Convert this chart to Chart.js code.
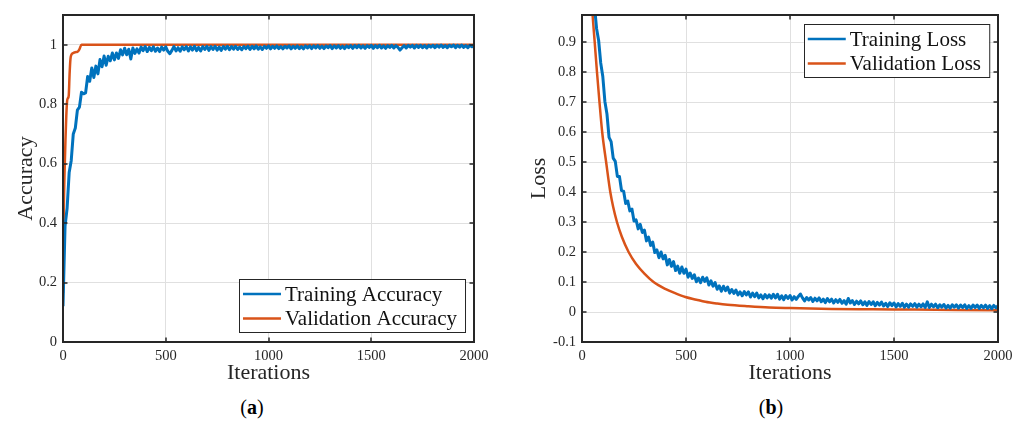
<!DOCTYPE html>
<html>
<head>
<meta charset="utf-8">
<script src="https://cdn.jsdelivr.net/npm/chart.js@4.4.1/dist/chart.umd.min.js"></script>
<style>
  body { margin: 0; background: #fff; width: 1013px; height: 422px; position: relative; overflow: hidden; }
  canvas { position: absolute; top: 0; }
  #accChart { left: 0; }
  #lossChart { left: 500px; }
  .cap { position: absolute; top: 396px; width: 60px; margin-left: -30px; text-align: center;
         font: 20px "Liberation Serif", serif; color: #000; }
</style>
</head>
<body>
<canvas id="accChart" width="500" height="390"></canvas>
<canvas id="lossChart" width="513" height="390"></canvas>
<div class="cap" style="left:252px">(<b>a</b>)</div>
<div class="cap" style="left:771px">(<b>b</b>)</div>
<script>
// Training curves are logged every 10 iterations
const trainStep = 10;

// (a) accuracy
const trainAcc = [
  0.12, 0.39, 0.45, 0.57, 0.61, 0.70, 0.72, 0.78, 0.79, 0.84, 0.835,
  0.838, 0.893, 0.877, 0.922, 0.890, 0.928, 0.902, 0.950, 0.926, 0.962,
  0.931, 0.961, 0.946, 0.972, 0.949, 0.972, 0.954, 0.983, 0.966, 0.988,
  0.966, 0.985, 0.952, 0.989, 0.971, 0.986, 0.972, 0.992, 0.980, 0.994,
  0.977, 0.991, 0.980, 0.993, 0.978, 0.989, 0.977, 0.992, 0.982, 0.993,
  0.978, 0.970, 0.981, 0.994, 0.979, 0.990, 0.978, 0.993, 0.983, 0.994,
  0.979, 0.993, 0.982, 0.995, 0.980, 0.991, 0.979, 0.994, 0.984, 0.995,
  0.981, 0.994, 0.984, 0.995, 0.982, 0.992, 0.981, 0.994, 0.985, 0.995,
  0.983, 0.994, 0.985, 0.995, 0.984, 0.992, 0.983, 0.994, 0.987, 0.995,
  0.984, 0.995, 0.986, 0.996, 0.985, 0.993, 0.984, 0.995, 0.988, 0.996,
  0.986, 0.995, 0.988, 0.996, 0.987, 0.994, 0.986, 0.995, 0.989, 0.996,
  0.986, 0.995, 0.988, 0.996, 0.987, 0.994, 0.986, 0.996, 0.989, 0.996,
  0.987, 0.996, 0.989, 0.997, 0.988, 0.995, 0.987, 0.996, 0.990, 0.997,
  0.987, 0.996, 0.989, 0.997, 0.988, 0.995, 0.987, 0.996, 0.990, 0.997,
  0.988, 0.997, 0.990, 0.998, 0.989, 0.996, 0.988, 0.997, 0.991, 0.998,
  0.988, 0.997, 0.990, 0.998, 0.989, 0.996, 0.988, 0.997, 0.991, 0.998,
  0.989, 0.997, 0.991, 0.982, 0.990, 0.997, 0.989, 0.998, 0.992, 0.998,
  0.989, 0.998, 0.991, 0.998, 0.990, 0.997, 0.989, 0.998, 0.992, 0.998,
  0.990, 0.998, 0.992, 0.999, 0.991, 0.997, 0.990, 0.998, 0.993, 0.999,
  0.990, 0.998, 0.992, 0.999, 0.991, 0.997, 0.990, 0.998, 0.993, 0.999
];
const valAccIter = [0, 4, 8, 12, 16, 20, 24, 28, 32, 36, 40, 50, 60, 70, 80, 90, 100, 500, 1000, 1500, 2000];
const valAcc = [0.165, 0.45, 0.58, 0.68, 0.76, 0.81, 0.82, 0.83, 0.90, 0.95, 0.965, 0.972, 0.975, 0.976, 0.985, 1.0, 1.0, 1.0, 1.0, 1.0, 1.0];

// (b) loss
const trainLoss = [
  1.7, 1.6, 1.5, 1.38, 1.25, 1.12, 1.02, 0.945, 0.905, 0.83, 0.785,
  0.702, 0.660, 0.582, 0.568, 0.513, 0.502, 0.452, 0.452, 0.405, 0.403,
  0.362, 0.370, 0.337, 0.343, 0.303, 0.307, 0.277, 0.292, 0.265, 0.273,
  0.237, 0.250, 0.222, 0.233, 0.198, 0.207, 0.181, 0.200, 0.177, 0.189,
  0.157, 0.175, 0.152, 0.168, 0.138, 0.153, 0.129, 0.150, 0.129, 0.143,
  0.116, 0.130, 0.112, 0.124, 0.101, 0.113, 0.098, 0.116, 0.102, 0.114,
  0.090, 0.104, 0.086, 0.098, 0.076, 0.087, 0.069, 0.086, 0.071, 0.083,
  0.063, 0.075, 0.062, 0.073, 0.057, 0.067, 0.054, 0.068, 0.057, 0.067,
  0.050, 0.063, 0.051, 0.063, 0.047, 0.057, 0.044, 0.058, 0.047, 0.057,
  0.046, 0.059, 0.047, 0.059, 0.043, 0.054, 0.041, 0.055, 0.045, 0.055,
  0.040, 0.051, 0.042, 0.052, 0.060, 0.047, 0.037, 0.048, 0.040, 0.048,
  0.035, 0.046, 0.037, 0.047, 0.034, 0.043, 0.031, 0.045, 0.034, 0.043,
  0.030, 0.041, 0.032, 0.042, 0.029, 0.038, 0.026, 0.045, 0.030, 0.038,
  0.025, 0.036, 0.027, 0.037, 0.024, 0.034, 0.022, 0.035, 0.025, 0.034,
  0.021, 0.032, 0.023, 0.033, 0.020, 0.029, 0.018, 0.031, 0.021, 0.030,
  0.017, 0.028, 0.019, 0.029, 0.016, 0.026, 0.016, 0.027, 0.019, 0.028,
  0.016, 0.026, 0.017, 0.027, 0.015, 0.034, 0.015, 0.026, 0.017, 0.026,
  0.014, 0.024, 0.016, 0.025, 0.013, 0.022, 0.013, 0.024, 0.016, 0.024,
  0.013, 0.023, 0.015, 0.024, 0.012, 0.021, 0.012, 0.023, 0.015, 0.023,
  0.012, 0.022, 0.014, 0.023, 0.012, 0.021, 0.011, 0.022, 0.014, 0.021
];
const valLossIter = [0, 20, 40, 50, 61, 72, 84, 97, 116, 136, 150, 168, 192, 224, 260, 300, 344, 400, 450, 497, 550, 593, 650, 700, 800, 900, 1000, 1200, 1400, 1600, 1800, 2000];
const valLoss = [1.7, 1.4, 1.12, 1.0, 0.9, 0.8, 0.7, 0.6, 0.5, 0.4, 0.35, 0.3, 0.25, 0.2, 0.16, 0.128, 0.1, 0.077, 0.062, 0.05, 0.041, 0.034, 0.028, 0.024, 0.019, 0.015, 0.013, 0.01, 0.009, 0.008, 0.007, 0.006];

const BLUE = '#0072BD';
const ORANGE = '#D95319';
const AXIS_COLOR = '#262626';
const GRID_COLOR = '#e0e0e0';
const FONT = '"Liberation Serif", "Times New Roman", serif';

function stepped(values) {
  return values.map((v, i) => ({ x: i * trainStep, y: v }));
}
function paired(xs, ys) {
  return xs.map((x, i) => ({ x: x, y: ys[i] }));
}

// box around the plot + inward tick marks on all four sides
const boxPlugin = {
  id: 'boxTicks',
  afterDatasetsDraw(chart) {
    const { ctx, chartArea: a, scales } = chart;
    const len = 4.5;
    ctx.save();
    ctx.strokeStyle = AXIS_COLOR;
    ctx.lineWidth = 1.5;
    ctx.beginPath();
    scales.x.ticks.forEach(t => {
      const px = Math.round(scales.x.getPixelForValue(t.value));
      ctx.moveTo(px, a.bottom); ctx.lineTo(px, a.bottom - len);
      ctx.moveTo(px, a.top); ctx.lineTo(px, a.top + len);
    });
    scales.y.ticks.forEach(t => {
      const py = Math.round(scales.y.getPixelForValue(t.value));
      ctx.moveTo(a.left, py); ctx.lineTo(a.left + len, py);
      ctx.moveTo(a.right, py); ctx.lineTo(a.right - len, py);
    });
    ctx.stroke();
    ctx.lineWidth = 2;
    ctx.strokeRect(a.left, a.top, a.right - a.left, a.bottom - a.top);
    ctx.restore();
  }
};

// MATLAB style boxed legend
const legendPlugin = {
  id: 'boxLegend',
  afterDraw(chart, args, opts) {
    const { ctx, chartArea: a } = chart;
    const sets = chart.data.datasets;
    ctx.save();
    ctx.font = '21px ' + FONT;
    const textW = Math.max(...sets.map(d => ctx.measureText(d.label).width));
    const w = 4 + 38 + 4 + textW + 8;
    const h = 53;
    const x = a.right - 9 - w;
    const y = opts.corner === 'br' ? a.bottom - 10 - h : a.top + 9;
    ctx.fillStyle = '#fff';
    ctx.fillRect(x, y, w, h);
    ctx.strokeStyle = AXIS_COLOR;
    ctx.lineWidth = 1;
    ctx.strokeRect(Math.round(x) + 0.5, Math.round(y) + 0.5, w, h);
    sets.forEach((d, i) => {
      const cy = y + 15 + i * 24.5;
      ctx.strokeStyle = d.borderColor;
      ctx.lineWidth = 2.5;
      ctx.beginPath();
      ctx.moveTo(x + 4, cy);
      ctx.lineTo(x + 42, cy);
      ctx.stroke();
      ctx.fillStyle = '#111';
      ctx.textBaseline = 'middle';
      ctx.fillText(d.label, x + 46, cy + 1);
    });
    ctx.restore();
  }
};

function makeChart(id, cfg) {
  return new Chart(document.getElementById(id), {
    type: 'line',
    data: {
      datasets: [
        { label: cfg.names[0], data: cfg.train, borderColor: BLUE, borderWidth: 3,
          borderJoinStyle: 'round', pointRadius: 0, tension: 0, clip: 0 },
        { label: cfg.names[1], data: cfg.val, borderColor: ORANGE, borderWidth: 2.5,
          pointRadius: 0, cubicInterpolationMode: 'monotone', clip: 0 }
      ]
    },
    options: {
      responsive: false,
      animation: false,
      layout: { padding: { top: 15, right: cfg.padRight, left: 0, bottom: 0 } },
      plugins: {
        legend: { display: false },
        tooltip: { enabled: false },
        boxLegend: { corner: cfg.corner }
      },
      scales: {
        x: {
          type: 'linear', min: 0, max: 2000,
          afterFit: s => { s.height = 48; s.paddingLeft = 0; s.paddingRight = 0; },
          ticks: { stepSize: 500, color: AXIS_COLOR, padding: 5, maxRotation: 0,
                   callback: v => String(v),
                   font: { family: FONT, size: 14.5 } },
          grid: { color: GRID_COLOR, drawTicks: false },
          border: { display: false },
          title: { display: true, text: 'Iterations', color: AXIS_COLOR,
                   font: { family: FONT, size: 22 }, padding: { top: 0, bottom: 4 } }
        },
        y: {
          min: cfg.yMin, max: cfg.yMax,
          afterFit: s => { s.width = cfg.yWidth; },
          afterBuildTicks: s => { s.ticks = s.ticks.filter(t => t.value <= cfg.yTop + 1e-9); },
          ticks: { stepSize: cfg.yStep, color: AXIS_COLOR, padding: 6,
                   callback: v => String(Math.round(v * 10) / 10),
                   font: { family: FONT, size: 14.5 } },
          grid: { color: GRID_COLOR, drawTicks: false },
          border: { display: false },
          title: { display: true, text: cfg.yTitle, color: AXIS_COLOR,
                   font: { family: FONT, size: 22 }, padding: { top: cfg.yTitlePad, bottom: 0 } }
        }
      }
    },
    plugins: [boxPlugin, legendPlugin]
  });
}

makeChart('accChart', {
  names: ['Training Accuracy', 'Validation Accuracy'],
  train: stepped(trainAcc),
  val: paired(valAccIter, valAcc),
  yMin: 0, yMax: 1.1, yTop: 1, yStep: 0.2,
  yTitle: 'Accuracy', yWidth: 63, yTitlePad: 13,
  padRight: 26, corner: 'br'
});

makeChart('lossChart', {
  names: ['Training Loss', 'Validation Loss'],
  train: stepped(trainLoss),
  val: paired(valLossIter, valLoss),
  yMin: -0.1, yMax: 0.99, yTop: 0.9, yStep: 0.1,
  yTitle: 'Loss', yWidth: 82, yTitlePad: 26,
  padRight: 15, corner: 'tr'
});
</script>
</body>
</html>
